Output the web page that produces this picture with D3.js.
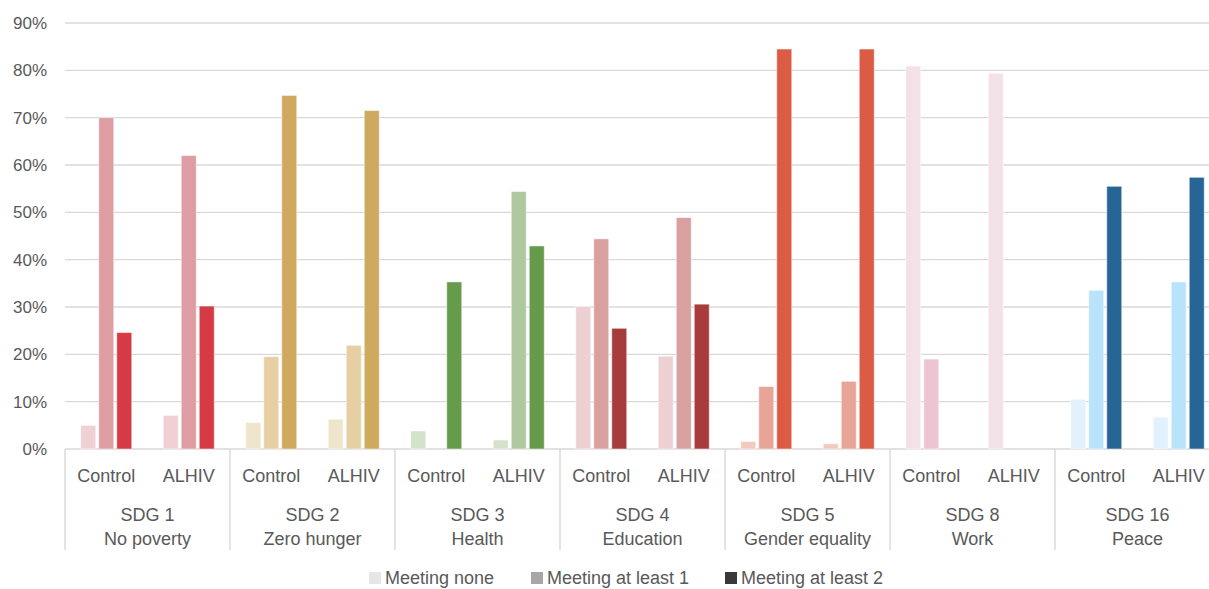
<!DOCTYPE html>
<html>
<head>
<meta charset="utf-8">
<script src="https://cdn.jsdelivr.net/npm/d3@7"></script>
<style>
  body { margin: 0; background: #fff; }
  svg text { font-family: "Liberation Sans", Arial, sans-serif; fill: #595959; }
</style>
</head>
<body>
<svg id="chart" width="1209" height="589"></svg>
<script>
// ---- data ----
var groups = ["SDG 1", "SDG 2", "SDG 3", "SDG 4", "SDG 5", "SDG 8", "SDG 16"];
var groupNames = ["No poverty", "Zero hunger", "Health", "Education", "Gender equality", "Work", "Peace"];
var subgroups = ["Control", "ALHIV"];
var series = ["Meeting none", "Meeting at least 1", "Meeting at least 2"];

// values per group: [Control, ALHIV], each in %
var meetingNone   = [[5.0, 7.1], [5.6, 6.3], [3.8, 1.9], [30.1, 19.6], [1.6, 1.1], [80.9, 79.4], [10.5, 6.7]];
var meetingLeast1 = [[70.0, 62.0], [19.5, 21.9], [0, 54.4], [44.4, 48.9], [13.2, 14.3], [19.0, 0], [33.5, 35.3]];
var meetingLeast2 = [[24.6, 30.2], [74.7, 71.5], [35.3, 42.9], [25.5, 30.6], [84.5, 84.5], [0, 0], [55.5, 57.4]];

var groupColors = [
  ["#efd1d4", "#de9da2", "#d63a45"],
  ["#efe5cd", "#e5cfa3", "#cea95e"],
  ["#d3e2c8", "#aec99f", "#669b4c"],
  ["#edd1d2", "#d9a0a0", "#a83c3c"],
  ["#f2c9bf", "#e8a496", "#dc5b44"],
  ["#f4e1e8", "#edc4d2", "#d98fab"],
  ["#e2f2fc", "#b9e3fa", "#286597"]
];
var legendColors = ["#e6e6e6", "#a9a6a6", "#3b3838"];
var yTicks = [0, 10, 20, 30, 40, 50, 60, 70, 80, 90];

// ---- layout ----
var svg = d3.select("#chart");
var plotL = 65, plotR = 1220, plotT = 23, plotB = 449;

var x0 = d3.scaleBand().domain(groups).range([plotL, plotR]);
var x1 = d3.scaleBand().domain(subgroups).range([0, x0.bandwidth()]);
var x2 = d3.scaleBand().domain(series).range([0, x1.bandwidth()])
  .paddingInner(0.167).paddingOuter(0.875);
var y = d3.scaleLinear().domain([0, 90]).range([plotB, plotT]);

// gridlines
svg.append("g").selectAll("line")
  .data(yTicks)
  .enter().append("line")
  .attr("x1", plotL).attr("x2", plotR)
  .attr("y1", function(d) { return y(d); })
  .attr("y2", function(d) { return y(d); })
  .attr("stroke", "#d9d9d9").attr("stroke-width", 1.4);

// y labels
svg.append("g").selectAll("text")
  .data(yTicks)
  .enter().append("text")
  .attr("x", 47)
  .attr("y", function(d) { return y(d); })
  .attr("dy", "0.36em")
  .attr("text-anchor", "end")
  .style("font-size", "17px")
  .text(function(d) { return d + "%"; });

// flatten bars
var bars = [];
groups.forEach(function(g, gi) {
  subgroups.forEach(function(s, si) {
    var vals = [meetingNone[gi][si], meetingLeast1[gi][si], meetingLeast2[gi][si]];
    series.forEach(function(k, ki) {
      bars.push({ group: g, sub: s, key: k, value: vals[ki], color: groupColors[gi][ki] });
    });
  });
});

svg.append("g").selectAll("rect")
  .data(bars.filter(function(d) { return d.value > 0; }))
  .enter().append("rect")
  .attr("x", function(d) { return x0(d.group) + x1(d.sub) + x2(d.key); })
  .attr("width", x2.bandwidth())
  .attr("y", function(d) { return y(d.value); })
  .attr("height", function(d) { return y(0) - y(d.value); })
  .attr("fill", function(d) { return d.color; })
  .attr("stroke", "#fff").attr("stroke-opacity", 0.5).attr("stroke-width", 1);

// category separators
var seps = groups.map(function(g) { return x0(g); });
svg.append("g").selectAll("line")
  .data(seps)
  .enter().append("line")
  .attr("x1", function(d) { return d; }).attr("x2", function(d) { return d; })
  .attr("y1", plotB).attr("y2", 550)
  .attr("stroke", "#d9d9d9").attr("stroke-width", 1.4);

// sub labels
var subLabels = [];
groups.forEach(function(g) { subgroups.forEach(function(s) { subLabels.push({ g: g, s: s }); }); });
svg.append("g").selectAll("text")
  .data(subLabels)
  .enter().append("text")
  .attr("x", function(d) { return x0(d.g) + x1(d.s) + x1.bandwidth() / 2; })
  .attr("y", 476).attr("dy", "0.36em")
  .attr("text-anchor", "middle")
  .style("font-size", "18px")
  .text(function(d) { return d.s; });

// group labels
var gl = svg.append("g").selectAll("g")
  .data(groups)
  .enter().append("g");
gl.append("text")
  .attr("x", function(d) { return x0(d) + x0.bandwidth() / 2; })
  .attr("y", 515).attr("dy", "0.36em")
  .attr("text-anchor", "middle")
  .style("font-size", "18px")
  .text(function(d) { return d; });
gl.append("text")
  .attr("x", function(d) { return x0(d) + x0.bandwidth() / 2; })
  .attr("y", 539).attr("dy", "0.36em")
  .attr("text-anchor", "middle")
  .style("font-size", "18px")
  .text(function(d, i) { return groupNames[i]; });

// legend
var legendX = [369, 531, 725];
var lg = svg.append("g").selectAll("g")
  .data(series)
  .enter().append("g")
  .attr("transform", function(d, i) { return "translate(" + legendX[i] + ",0)"; });
lg.append("rect")
  .attr("x", 0).attr("y", 572).attr("width", 12).attr("height", 12)
  .attr("fill", function(d, i) { return legendColors[i]; });
lg.append("text")
  .attr("x", 16).attr("y", 584)
  .style("font-size", "18px")
  .text(function(d) { return d; });
</script>
</body>
</html>
